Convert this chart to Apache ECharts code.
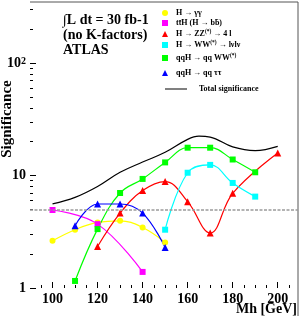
<!DOCTYPE html>
<html><head><meta charset="utf-8">
<script src="https://cdn.jsdelivr.net/npm/echarts@6/dist/echarts.min.js"></script>
<style>html,body{margin:0;padding:0;background:#fff}#c{width:300px;height:319px}</style>
</head><body><div id="c"></div>
<script>
// ---- data ----
const xTicks = [100, 120, 140, 160, 180, 200];
const xMinorTicks = [95, 105, 110, 115, 125, 130, 135, 145, 150, 155, 165, 170, 175, 185, 190, 195, 205];
const yTicks = [1, 10, 100];
const yMinorTicks = [2, 3, 4, 5, 6, 7, 8, 9, 20, 30, 40, 50, 60, 70, 80, 90, 200, 300];

const seriesNames = ['H → γγ', 'tt̄H (H → bb̄)', 'H → ZZ(*) → 4 l', 'H → WW(*) → lνlν', 'qqH → qq WW(*)', 'qqH → qq ττ', 'Total significance'];

const ggMass = [100, 110, 120, 130, 140, 150];
const ggSig = [2.63, 3.3, 3.83, 3.96, 3.45, 2.54];
const tthMass = [100, 120, 140];
const tthSig = [4.94, 3.7, 1.39];
const zzMass = [120, 130, 140, 150, 160, 170, 180, 200];
const zzSig = [2.34, 4.64, 7.35, 8.84, 5.86, 3.08, 6.95, 15.9];
const wwMass = [150, 160, 170, 180, 190];
const wwSig = [3.3, 10.6, 12.45, 8.6, 6.5];
const vbfWwMass = [110, 120, 130, 140, 150, 160, 170, 180, 190];
const vbfWwSig = [1.155, 3.34, 7.0, 9.34, 13.1, 17.7, 17.7, 13.9, 10.7];
const vbfTauMass = [110, 120, 130, 140, 150];
const vbfTauSig = [3.58, 5.59, 5.59, 4.64, 2.29];
const totMass = [100, 110, 120, 130, 140, 150, 160, 165, 170, 180, 190, 200];
const totSig = [5.6, 6.4, 8.0, 10.7, 13.2, 16.1, 21.0, 22.4, 22.0, 18.0, 16.7, 18.2];
const discoveryLevel = 5;

// ---- styling ----
const SERIF = '"Liberation Serif", "DejaVu Serif", serif';
const colors = ['#ffff00', '#ff00ff', '#ff0000', '#00ffff', '#00ff00', '#0000ff', '#000000'];
const symbols = ['circle', 'rect', 'triangle', 'rect', 'rect', 'triangle', 'none'];
const symSizes = [6, 6, 7, 6, 6, 7, 0];
const masses = [ggMass, tthMass, zzMass, wwMass, vbfWwMass, vbfTauMass, totMass];
const sigs = [ggSig, tthSig, zzSig, wwSig, vbfWwSig, vbfTauSig, totSig];
const legendCenters = [13, 23, 34, 45, 58, 73, 89];

const series = seriesNames.map((name, i) => {
  const s = {
    name, type: 'line',
    data: masses[i].map((m, k) => [m, sigs[i][k]]),
    smooth: 0.4,
    symbol: symbols[i], symbolSize: symSizes[i], showSymbol: symbols[i] !== 'none',
    color: colors[i],
    lineStyle: { width: 1.2, color: colors[i] },
    itemStyle: { color: colors[i] },
    xAxisIndex: 0, yAxisIndex: 0,
    silent: true, animation: false
  };
  return s;
});
series[6].markLine = {
  silent: true, symbol: ['none', 'none'], label: { show: false },
  lineStyle: { type: [3, 1.5], color: '#9a9a9a', width: 1.5 },
  data: [{ yAxis: discoveryLevel }]
};
series[6].z = 1;

const legends = seriesNames.map((n, i) => {
  const isLine = i === 6;
  return {
    data: [n], orient: 'vertical', padding: 0,
    left: isLine ? 165 : 162, top: legendCenters[i] - 5,
    icon: isLine ? 'rect' : (symbols[i] === 'circle' ? 'circle' : symbols[i]),
    itemWidth: isLine ? 22 : 6, itemHeight: isLine ? 1 : 6,
    selectedMode: false,
    formatter: nm => nm.replace('(*)', '{sup|(*)}'),
    textStyle: {
      fontFamily: SERIF, fontWeight: 'bold', fontSize: 8, color: '#000',
      padding: [0, 0, 0, isLine ? 7 : 3], lineHeight: 10,
      rich: { sup: { fontFamily: SERIF, fontWeight: 'bold', fontSize: 5.5, verticalAlign: 'top', lineHeight: 6 } }
    }
  };
});

const axisFont = { fontFamily: SERIF, fontWeight: 'bold', fontSize: 14, color: '#000' };

const option = {
  animation: false,
  grid: { left: 30, right: 2, top: 2, bottom: 31, containLabel: false },
  xAxis: [
    {
      type: 'value', min: 90, max: 209, position: 'bottom',
      axisLine: { show: false }, splitLine: { show: false },
      axisTick: { show: true, inside: true, length: 6, customValues: xTicks, lineStyle: { color: '#000', width: 1 } },
      axisLabel: Object.assign({ customValues: xTicks, margin: 4 }, axisFont)
    },
    {
      type: 'value', min: 90, max: 209, position: 'bottom',
      axisLine: { show: false }, splitLine: { show: false },
      axisTick: { show: true, inside: true, length: 3, customValues: xMinorTicks, lineStyle: { color: '#000', width: 1 } },
      axisLabel: { show: false }
    }
  ],
  yAxis: [
    {
      type: 'log', logBase: 10, min: 1, max: 350, position: 'left',
      axisLine: { show: false }, splitLine: { show: false },
      axisTick: { show: true, inside: true, length: 6, customValues: yTicks, lineStyle: { color: '#000', width: 1 } },
      axisLabel: Object.assign({
        customValues: yTicks, margin: 4,
        formatter: v => (v >= 100 ? '10{sup|2}' : String(v)),
        rich: { sup: { fontFamily: SERIF, fontWeight: 'bold', fontSize: 10, verticalAlign: 'top', lineHeight: 10 } }
      }, axisFont)
    },
    {
      type: 'log', logBase: 10, min: 1, max: 350, position: 'left',
      axisLine: { show: false }, splitLine: { show: false },
      axisTick: { show: true, inside: true, length: 3, customValues: yMinorTicks, lineStyle: { color: '#000', width: 1 } },
      axisLabel: { show: false }
    }
  ],
  legend: legends,
  graphic: [
    { type: 'line', shape: { x1: 30, y1: 2, x2: 298, y2: 2 }, style: { stroke: '#555', lineWidth: 1 }, silent: true },
    { type: 'line', shape: { x1: 298, y1: 2, x2: 298, y2: 316 }, style: { stroke: '#555', lineWidth: 1 }, silent: true },
    { type: 'text', x: 63, y: 13, silent: true,
      style: { text: '∫L dt = 30 fb-1\n(no K-factors)\nATLAS', font: 'bold 14px ' + SERIF, lineHeight: 15, fill: '#000' } },
    { type: 'text', x: 7, y: 119, rotation: Math.PI / 2, silent: true,
      style: { text: 'Significance', font: 'bold 15px ' + SERIF, fill: '#000', align: 'center', verticalAlign: 'middle', textAlign: 'center', textVerticalAlign: 'middle' } },
    { type: 'text', x: 297, y: 309, silent: true,
      style: { text: 'Mh [GeV]', font: 'bold 14px ' + SERIF, fill: '#000', align: 'right', verticalAlign: 'middle', textAlign: 'right', textVerticalAlign: 'middle' } }
  ],
  series
};

const chart = echarts.init(document.getElementById('c'), null, { renderer: 'canvas' });
chart.setOption(option);
</script>
</body></html>
